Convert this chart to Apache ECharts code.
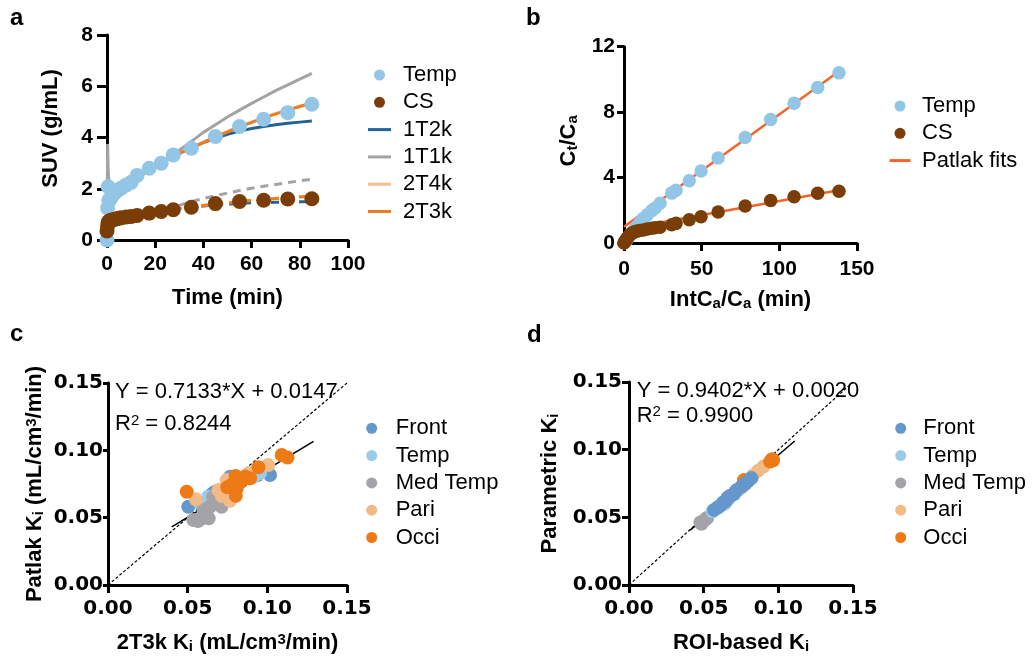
<!DOCTYPE html>
<html><head><meta charset="utf-8">
<script src="https://cdn.jsdelivr.net/npm/echarts/dist/echarts.min.js"></script>
<style>html,body{margin:0;padding:0;background:#fff}#c{width:1033px;height:659px}</style>
</head><body><div id="c"></div>
<script>
// ---------- Panel a: SUV time-activity curves ----------
const timeTemp = [0, 0.25, 0.5, 0.75, 1, 1.5, 2, 3, 4, 5, 6, 8, 10, 12.5, 17.5, 22.5, 27.5, 35, 45, 55, 65, 75, 85];
const suvTemp  = [0, 1.25, 2.08, 1.55, 1.55, 1.62, 1.7, 1.82, 1.9, 1.97, 2.03, 2.15, 2.25, 2.52, 2.8, 3.0, 3.32, 3.58, 4.04, 4.43, 4.71, 4.97, 5.3];
const timeCS   = [0, 0.25, 0.5, 0.75, 1, 1.5, 2, 3, 4, 5, 6, 8, 10, 12.5, 17.5, 22.5, 27.5, 35, 45, 55, 65, 75, 85];
const suvCS    = [0.35, 0.55, 0.68, 0.72, 0.74, 0.76, 0.78, 0.8, 0.83, 0.85, 0.87, 0.9, 0.92, 0.96, 1.05, 1.11, 1.18, 1.28, 1.42, 1.5, 1.55, 1.6, 1.61];
const fitTime  = [0, 0.25, 0.5, 1, 2, 3, 5, 7.5, 10, 15, 20, 25, 30, 35, 40, 45, 50, 55, 60, 65, 70, 75, 80, 85];
const fit1T2kTemp = [0, 1.9, 1.75, 1.62, 1.72, 1.82, 1.97, 2.12, 2.25, 2.6, 2.88, 3.12, 3.38, 3.6, 3.8, 3.97, 4.12, 4.25, 4.35, 4.43, 4.5, 4.56, 4.6, 4.64];
const fit1T1kTemp = [0, 3.75, 2.7, 2.1, 1.9, 1.9, 2.0, 2.13, 2.26, 2.6, 2.9, 3.17, 3.5, 3.85, 4.2, 4.5, 4.8, 5.07, 5.33, 5.58, 5.83, 6.05, 6.28, 6.5];
const fit2T4kTemp = [0, 1.8, 1.9, 1.6, 1.7, 1.82, 1.97, 2.12, 2.25, 2.58, 2.86, 3.13, 3.38, 3.6, 3.82, 4.03, 4.23, 4.43, 4.6, 4.77, 4.93, 5.08, 5.22, 5.36];
const fit2T3kTemp = [0, 1.85, 1.85, 1.6, 1.7, 1.82, 1.97, 2.12, 2.25, 2.58, 2.86, 3.12, 3.37, 3.6, 3.81, 4.02, 4.22, 4.41, 4.59, 4.76, 4.92, 5.07, 5.21, 5.34];
const fit1T2kCS = [0, 0.6, 0.65, 0.7, 0.76, 0.8, 0.84, 0.89, 0.93, 1.0, 1.08, 1.15, 1.22, 1.28, 1.33, 1.37, 1.4, 1.43, 1.45, 1.46, 1.47, 1.48, 1.49, 1.49];
const fit1T1kCS = [0, 0.9, 0.8, 0.75, 0.76, 0.79, 0.84, 0.89, 0.93, 1.0, 1.08, 1.2, 1.35, 1.5, 1.62, 1.73, 1.83, 1.93, 2.02, 2.1, 2.17, 2.24, 2.31, 2.37];
const fit2T4kCS = [0, 0.5, 0.6, 0.7, 0.76, 0.8, 0.84, 0.89, 0.93, 1.01, 1.09, 1.16, 1.23, 1.29, 1.35, 1.41, 1.46, 1.51, 1.55, 1.59, 1.62, 1.66, 1.69, 1.72];
const fit2T3kCS = [0, 0.5, 0.6, 0.7, 0.76, 0.8, 0.84, 0.89, 0.93, 1.01, 1.09, 1.16, 1.23, 1.29, 1.35, 1.4, 1.45, 1.5, 1.54, 1.58, 1.62, 1.65, 1.68, 1.71];

// ---------- Panel b: Patlak plot ----------
const patlakX    = [0, 0.5, 1, 1.5, 2, 3, 4, 5, 6, 7, 8.5, 10, 12.4, 15, 17.8, 20, 23.2, 30.7, 33.5, 42, 49.6, 60.6, 78, 94.4, 109.5, 124.7, 138.4];
const patlakTemp = [0, 0.06, 0.12, 0.18, 0.25, 0.37, 0.5, 0.62, 0.74, 0.86, 1.03, 1.22, 1.5, 1.72, 1.97, 2.12, 2.43, 3.05, 3.22, 3.8, 4.4, 5.2, 6.45, 7.55, 8.55, 9.5, 10.4];
const patlakCS   = [0, 0.08, 0.15, 0.22, 0.3, 0.42, 0.52, 0.6, 0.65, 0.69, 0.73, 0.76, 0.8, 0.85, 0.9, 0.93, 0.97, 1.12, 1.2, 1.42, 1.6, 1.9, 2.26, 2.6, 2.83, 3.04, 3.16];
const fitTempX = [0, 140], fitTempY = [1.0, 10.6];
const fitCSX   = [12, 140], fitCSY   = [1.06, 3.26];

// ---------- Panel c: Patlak Ki vs 2T3k Ki ----------
const cFront = [[0.0504,0.0581],[0.0598,0.0605],[0.0652,0.0675],[0.0672,0.0693],[0.0766,0.0804],[0.0825,0.0775],[0.0935,0.0815],[0.1017,0.0817]];
const cTemp  = [[0.0578,0.0606],[0.0629,0.0656],[0.0655,0.0622],[0.0726,0.0668],[0.0787,0.0753],[0.0835,0.0775],[0.0954,0.0829],[0.0915,0.0805]];
const cMed   = [[0.0536,0.0483],[0.0565,0.0475],[0.0578,0.0488],[0.062,0.0507],[0.0599,0.0557],[0.064,0.0581],[0.066,0.0656],[0.0682,0.0606],[0.0713,0.0581],[0.0724,0.0618],[0.0632,0.0495]];
const cPari  = [[0.0552,0.0636],[0.0693,0.0705],[0.0714,0.0661],[0.0735,0.0725],[0.0766,0.0626],[0.0745,0.0779],[0.0885,0.0832],[0.1006,0.0891]];
const cOcci  = [[0.0494,0.0693],[0.0748,0.0725],[0.0801,0.0809],[0.0808,0.0716],[0.0802,0.0662],[0.0838,0.0768],[0.086,0.0805],[0.0892,0.0793],[0.0944,0.0874],[0.109,0.0965],[0.1127,0.0946],[0.0775,0.0745]];
const cRegX = [0.04, 0.129], cRegY = [0.0432, 0.1067];

// ---------- Panel d: Parametric Ki vs ROI-based Ki ----------
const dFront = [[0.057,0.0555],[0.059,0.057],[0.061,0.0585],[0.063,0.061],[0.065,0.062],[0.066,0.0645],[0.068,0.066],[0.07,0.067],[0.072,0.07],[0.075,0.0725],[0.078,0.075],[0.08,0.077],[0.082,0.079]];
const dTemp  = [[0.056,0.0545],[0.06,0.0575],[0.064,0.06],[0.067,0.064],[0.071,0.068],[0.074,0.071],[0.077,0.074]];
const dMed   = [[0.0485,0.0452],[0.0495,0.047],[0.0512,0.0485],[0.0523,0.0495],[0.0478,0.0462]];
const dPari  = [[0.0675,0.066],[0.071,0.0685],[0.076,0.0725],[0.083,0.081],[0.0865,0.0845],[0.09,0.0875]];
const dOcci  = [[0.0945,0.0912],[0.0965,0.0922],[0.0958,0.093],[0.077,0.0775]];
const dRegX = [0.041, 0.111], dRegY = [0.0405, 0.1064];
const identX = [0, 0.15], identY = [0, 0.15];

// ---------- styling ----------
const F = '"Liberation Sans", Arial, Helvetica, sans-serif';
const FD = '"DejaVu Sans", sans-serif';
const C = {temp:'#93C6E6', cs:'#7A3D06', t2k:'#22649A', t1k:'#A3A3A3', t4k:'#F5BD8A', t3k:'#EE7D22',
  patlak:'#F2642A', front:'#6497CC', ctemp:'#9ACBEB', med:'#A3A3A8', pari:'#F2BA87', occi:'#EE7A16'};
const zip = (a, b) => a.map((v, i) => [v, b[i]]);
const rich = {
  sub: {fontFamily: F, fontSize: 15, fontWeight: 'bold', color: '#000', verticalAlign: 'bottom', lineHeight: 8},
  sup: {fontFamily: F, fontSize: 15, fontWeight: 'bold', color: '#000', verticalAlign: 'top', lineHeight: 9}
};
function axis(o) {
  return {
    gridIndex: o.g, type: 'value', min: o.min, max: o.max, interval: o.interval,
    axisLine: {show: true, onZero: false, lineStyle: {color: '#000', width: 3}},
    axisTick: {show: true, length: o.tick, lineStyle: {color: '#000', width: 3}},
    splitLine: {show: false},
    axisLabel: {margin: o.margin, color: '#000', fontFamily: o.ff || F, fontSize: o.fs || 21, fontWeight: 'bold',
      formatter: o.fmt || (v => String(v))},
    name: o.name, nameLocation: 'middle', nameGap: o.gap,
    nameTextStyle: {fontFamily: F, fontSize: 22, fontWeight: 'bold', color: '#000', rich: rich, padding: o.pad || 0}
  };
}
const f2 = v => v.toFixed(2);
const linePath = w => 'path://M0,0H' + w + 'V3H0Z';
function legend(o) {
  return {
    left: o.left, top: o.top, orient: 'vertical', padding: 0, itemGap: 5.3,
    itemWidth: o.w, itemHeight: 11, selectedMode: false,
    textStyle: {fontFamily: F, fontSize: 22, color: '#000', lineHeight: 22, padding: [0, 0, 0, o.pad]},
    data: o.items.map(it => ({name: it[0], icon: it[2] === 'line' ? linePath(o.w) : 'circle', itemStyle: {color: it[1], borderWidth: 0}}))
  };
}
function scat(name, g, data, color, size) {
  return {type: 'scatter', name, xAxisIndex: g, yAxisIndex: g, data, symbolSize: size || 14, silent: true,
    itemStyle: {color, opacity: 1}, z: 3};
}
function ln(name, g, data, color, width, type) {
  return {type: 'line', name, xAxisIndex: g, yAxisIndex: g, data, showSymbol: false, symbol: 'none', silent: true,
    itemStyle: {color}, lineStyle: {color, width, type: type || 'solid'}, z: 2};
}
const supRich = {s: {fontSize: 15, fontFamily: F, verticalAlign: 'top', lineHeight: 9}};

const option = {
  animation: false,
  backgroundColor: '#fff',
  grid: [
    {left: 107, top: 35, width: 241, height: 205},
    {left: 624, top: 46.7, width: 233, height: 196.3},
    {left: 108, top: 383, width: 239, height: 202},
    {left: 629, top: 382, width: 224, height: 203}
  ],
  xAxis: [
    axis({g:0, min:0, max:100, interval:20, tick:8, margin:14, name:'Time (min)', gap:47}),
    axis({g:1, min:0, max:150, interval:50, tick:8, margin:16, name:'IntC{sub|a}/C{sub|a} (min)', gap:46}),
    axis({g:2, min:0, max:0.15, interval:0.05, tick:8, margin:14, ff:FD, fs:20, fmt:f2, name:'2T3k K{sub|i} (mL/cm{sup|3}/min)', gap:47}),
    axis({g:3, min:0, max:0.15, interval:0.05, tick:8, margin:14, ff:FD, fs:20, fmt:f2, name:'ROI-based K{sub|i}', gap:47})
  ],
  yAxis: [
    axis({g:0, min:0, max:8, interval:2, tick:10, margin:14, name:'SUV (g/mL)', gap:45, pad:[0,0,0,18]}),
    axis({g:1, min:0, max:12, interval:4, tick:7, margin:9, name:'C{sub|t}/C{sub|a}', gap:44, pad:[0,0,0,8]}),
    axis({g:2, min:0, max:0.15, interval:0.05, tick:5, margin:5, ff:FD, fs:20, fmt:f2, name:'Patlak K{sub|i} (mL/cm{sup|3}/min)', gap:62}),
    axis({g:3, min:0, max:0.15, interval:0.05, tick:7, margin:7, ff:FD, fs:20, fmt:f2, name:'Parametric K{sub|i}', gap:68})
  ],
  legend: [
    legend({left:368, top:64, w:23, pad:7, items:[['Temp',C.temp],['CS',C.cs],['1T2k',C.t2k,'line'],['1T1k',C.t1k,'line'],['2T4k',C.t4k,'line'],['2T3k',C.t3k,'line']]}),
    legend({left:889.5, top:95, w:21, pad:6.5, items:[['Temp',C.temp],['CS',C.cs],['Patlak fits',C.patlak,'line']]}),
    legend({left:366.2, top:417.3, w:11, pad:13.5, items:[['Front',C.front],['Temp',C.ctemp],['Med Temp',C.med],['Pari',C.pari],['Occi',C.occi]]}),
    legend({left:895.2, top:417.3, w:11, pad:12.1, items:[['Front',C.front],['Temp',C.ctemp],['Med Temp',C.med],['Pari',C.pari],['Occi',C.occi]]})
  ],
  series: [
    // panel a
    ln('1T1k', 0, zip(fitTime, fit1T1kTemp), C.t1k, 3),
    ln('1T2k', 0, zip(fitTime, fit1T2kTemp), C.t2k, 3),
    ln('2T4k', 0, zip(fitTime, fit2T4kTemp), C.t4k, 3),
    ln('2T3k', 0, zip(fitTime, fit2T3kTemp), C.t3k, 3),
    ln('1T1k', 0, zip(fitTime, fit1T1kCS), C.t1k, 3, [8, 6]),
    ln('1T2k', 0, zip(fitTime, fit1T2kCS), C.t2k, 3, [8, 6]),
    ln('2T4k', 0, zip(fitTime, fit2T4kCS), C.t4k, 3, [8, 6]),
    ln('2T3k', 0, zip(fitTime, fit2T3kCS), C.t3k, 3, [8, 6]),
    scat('Temp', 0, zip(timeTemp, suvTemp), C.temp, 15),
    scat('CS', 0, zip(timeCS, suvCS), C.cs, 15),
    // panel b
    ln('Patlak fits', 1, zip(fitTempX, fitTempY), C.patlak, 2.5),
    ln('Patlak fits', 1, zip(fitCSX, fitCSY), C.patlak, 2.5),
    scat('Temp', 1, zip(patlakX, patlakTemp), C.temp, 13.5),
    scat('CS', 1, zip(patlakX, patlakCS), C.cs, 13.5),
    // panel c
    ln('identity c', 2, zip(identX, identY), '#000', 1.2, [3, 2]),
    ln('regression c', 2, zip(cRegX, cRegY), '#000', 1.6),
    scat('Front', 2, cFront, C.front, 14),
    scat('Temp', 2, cTemp, C.ctemp, 14),
    scat('Med Temp', 2, cMed, C.med, 14),
    scat('Pari', 2, cPari, C.pari, 14),
    scat('Occi', 2, cOcci, C.occi, 14),
    // panel d
    ln('identity d', 3, zip(identX, identY), '#000', 1.2, [3, 2]),
    ln('regression d', 3, zip(dRegX, dRegY), '#000', 1.6),
    scat('Med Temp', 3, dMed, C.med, 14),
    scat('Temp', 3, dTemp, C.ctemp, 14),
    scat('Pari', 3, dPari, C.pari, 14),
    scat('Occi', 3, dOcci, C.occi, 14),
    scat('Front', 3, dFront, C.front, 14)
  ],
  graphic: [
    {type:'text', x:10, y:18.7, style:{text:'a', font:'bold 24px ' + F, fill:'#000', verticalAlign:'middle', align:'left'}},
    {type:'text', x:526, y:18.7, style:{text:'b', font:'bold 24px ' + F, fill:'#000', verticalAlign:'middle', align:'left'}},
    {type:'text', x:10, y:334.7, style:{text:'c', font:'bold 24px ' + F, fill:'#000', verticalAlign:'middle', align:'left'}},
    {type:'text', x:527, y:335.7, style:{text:'d', font:'bold 24px ' + F, fill:'#000', verticalAlign:'middle', align:'left'}},
    {type:'text', x:115, y:392.4, z:10, style:{text:'Y = 0.7133*X + 0.0147', font:'22px ' + F, fill:'#000', verticalAlign:'middle', align:'left'}},
    {type:'text', x:115, y:424, z:10, style:{text:'R{s|2} = 0.8244', font:'22px ' + F, fill:'#000', verticalAlign:'middle', align:'left', rich:supRich}},
    {type:'text', x:636.7, y:390.7, z:10, style:{text:'Y = 0.9402*X + 0.0020', font:'22px ' + F, fill:'#000', verticalAlign:'middle', align:'left'}},
    {type:'text', x:636.7, y:415.7, z:10, style:{text:'R{s|2} = 0.9900', font:'22px ' + F, fill:'#000', verticalAlign:'middle', align:'left', rich:supRich}}
  ]
};
const chart = echarts.init(document.getElementById('c'), null, {renderer: 'canvas'});
chart.setOption(option);
</script></body></html>
